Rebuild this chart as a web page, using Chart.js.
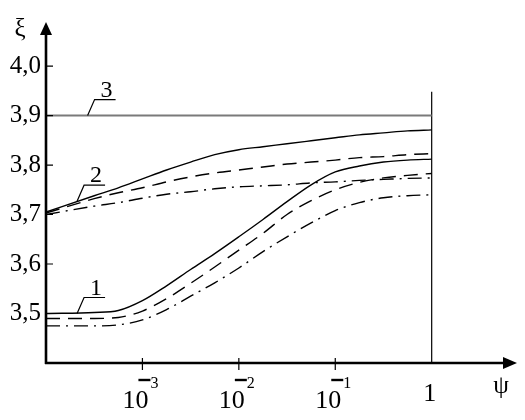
<!DOCTYPE html>
<html>
<head>
<meta charset="utf-8">
<script src="https://cdn.jsdelivr.net/npm/chart.js@4.4.1/dist/chart.umd.min.js"></script>
<style>
  body { margin: 0; background: #fff; }
</style>
</head>
<body>
<canvas id="myChart" width="525" height="420"></canvas>
<script>
// psi values (log x axis)
const psi = [0.0001, 0.000316, 0.000562, 0.001, 0.00178, 0.00316, 0.00562, 0.01,
             0.0178, 0.0316, 0.0562, 0.1, 0.178, 0.316, 0.562, 1]

// group 2 (upper)
const solid2   = [3.705, 3.738, 3.754, 3.772, 3.790, 3.806, 3.821, 3.831, 3.837, 3.843, 3.849, 3.855, 3.861, 3.865, 3.869, 3.871]
const dashed2  = [3.703, 3.732, 3.744, 3.754, 3.766, 3.776, 3.784, 3.790, 3.796, 3.802, 3.806, 3.810, 3.815, 3.817, 3.821, 3.823]
const dashDot2 = [3.700, 3.717, 3.724, 3.733, 3.741, 3.746, 3.752, 3.756, 3.758, 3.760, 3.764, 3.766, 3.769, 3.771, 3.773, 3.774]

// group 1 (lower)
const solid1   = [3.500, 3.502, 3.506, 3.526, 3.556, 3.589, 3.621, 3.655, 3.690, 3.726, 3.760, 3.786, 3.798, 3.806, 3.810, 3.812]
const dashed1  = [3.490, 3.490, 3.492, 3.505, 3.530, 3.561, 3.594, 3.628, 3.662, 3.700, 3.728, 3.750, 3.765, 3.774, 3.779, 3.783]
const dashDot1 = [3.475, 3.475, 3.477, 3.487, 3.508, 3.535, 3.562, 3.592, 3.625, 3.655, 3.683, 3.708, 3.724, 3.734, 3.738, 3.740]

// line 3 and the vertical line at psi = 1
const line3Psi = [0.0001, 1]
const line3 = [3.9, 3.9]
const vLinePsi = [1, 1]
const vLine = [3.4, 3.948]

const yTicks = [3.5, 3.6, 3.7, 3.8, 3.9, 4.0]
const xTicks = [0.001, 0.01, 0.1, 1]
const xTickExp = ['3', '2', '1', '']

const curveLabels = [
    { text: '1', psi: 0.00021, y: 3.5 },
    { text: '2', psi: 0.00021, y: 3.727 },
    { text: '3', psi: 0.00027, y: 3.9 }
]

const serif = "'Liberation Serif', serif"

const pts = (xs, ys) => xs.map((x, i) => ({ x, y: ys[i] }))

const lineSet = (d, dash, color, width) => ({
    data: d,
    borderColor: color || '#000',
    borderWidth: width || 1.4,
    borderDash: dash || [],
    pointRadius: 0,
    fill: false,
    cubicInterpolationMode: 'monotone'
})

const axesPlugin = {
    id: 'axesPlugin',
    afterDraw(chart) {
        const ctx = chart.ctx
        const xs = chart.scales.x
        const ys = chart.scales.y
        const a = chart.chartArea
        ctx.save()
        ctx.strokeStyle = '#000'
        ctx.fillStyle = '#000'

        // axes
        ctx.lineWidth = 2.6
        ctx.beginPath()
        ctx.moveTo(a.left, a.bottom + 1)
        ctx.lineTo(a.left, a.top + 10)
        ctx.moveTo(a.left - 1, a.bottom)
        ctx.lineTo(a.right - 10, a.bottom)
        ctx.stroke()

        // arrow heads
        ctx.beginPath()
        ctx.moveTo(a.left, a.top)
        ctx.lineTo(a.left - 6, a.top + 13)
        ctx.lineTo(a.left + 6, a.top + 13)
        ctx.closePath()
        ctx.fill()
        ctx.beginPath()
        ctx.moveTo(a.right, a.bottom)
        ctx.lineTo(a.right - 14, a.bottom - 6)
        ctx.lineTo(a.right - 14, a.bottom + 6)
        ctx.closePath()
        ctx.fill()

        // tick marks
        ctx.lineWidth = 1.2
        ctx.beginPath()
        yTicks.forEach(v => {
            const py = ys.getPixelForValue(v)
            ctx.moveTo(a.left, py)
            ctx.lineTo(a.left + 7, py)
        })
        xTicks.forEach(v => {
            if (v === 1) return
            const px = xs.getPixelForValue(v)
            ctx.moveTo(px, a.bottom - 5)
            ctx.lineTo(px, a.bottom + 7)
        })
        ctx.stroke()

        // x tick labels: 10 with a raised minus and exponent
        ctx.textBaseline = 'alphabetic'
        xTicks.forEach((v, i) => {
            const px = xs.getPixelForValue(v)
            ctx.font = '26px ' + serif
            ctx.textAlign = 'center'
            if (xTickExp[i] === '') {
                ctx.fillText('1', px - 2, 401)
                return
            }
            ctx.fillText('10', px - 7, 408)
            ctx.lineWidth = 2.4
            ctx.beginPath()
            ctx.moveTo(px - 4, 380)
            ctx.lineTo(px + 8, 380)
            ctx.stroke()
            ctx.font = '16px ' + serif
            ctx.textAlign = 'left'
            ctx.fillText(xTickExp[i], px + 8, 388)
        })

        // axis names
        ctx.font = '25px ' + serif
        ctx.textAlign = 'center'
        ctx.fillText('ξ', 20, 36)
        ctx.fillText('ψ', 501, 393)

        // curve labels with leader lines
        ctx.lineWidth = 1.2
        curveLabels.forEach(l => {
            const px = xs.getPixelForValue(l.psi)
            const py = ys.getPixelForValue(l.y)
            ctx.beginPath()
            ctx.moveTo(px, py)
            ctx.lineTo(px + 7, py - 16)
            ctx.lineTo(px + 28, py - 16)
            ctx.stroke()
            ctx.font = '24px ' + serif
            ctx.textAlign = 'center'
            ctx.fillText(l.text, px + 19, py - 19)
        })
        ctx.restore()
    }
}

const data = {
    datasets: [
        lineSet(pts(line3Psi, line3), [], '#7a7a7a', 2),
        lineSet(pts(vLinePsi, vLine), [], '#000', 1.2),
        lineSet(pts(psi, solid2)),
        lineSet(pts(psi, dashed2), [14, 8]),
        lineSet(pts(psi, dashDot2), [14, 6, 2, 6]),
        lineSet(pts(psi, solid1)),
        lineSet(pts(psi, dashed1), [14, 8]),
        lineSet(pts(psi, dashDot1), [14, 6, 2, 6])
    ]
}

const config = {
    type: 'line',
    data: data,
    options: {
        responsive: false,
        animation: false,
        layout: { padding: { left: 0, right: 8, top: 22, bottom: 0 } },
        plugins: {
            legend: { display: false },
            tooltip: { enabled: false }
        },
        scales: {
            x: {
                type: 'logarithmic',
                min: 0.0001,
                max: 7.67,
                grid: { display: false, drawTicks: false },
                border: { display: false },
                ticks: { display: false },
                afterFit: s => { s.height = 57 }
            },
            y: {
                min: 3.4,
                max: 4.089,
                grid: { display: false, drawTicks: false },
                border: { display: false },
                afterBuildTicks: s => { s.ticks = yTicks.map(v => ({ value: v })) },
                ticks: {
                    color: '#000',
                    padding: 5,
                    font: { family: serif, size: 25 },
                    callback: v => v.toFixed(1).replace('.', ',')
                },
                afterFit: s => { s.width = 46 }
            }
        }
    },
    plugins: [axesPlugin]
}

const myChart = new Chart(document.getElementById('myChart').getContext('2d'), config)
</script>
</body>
</html>
